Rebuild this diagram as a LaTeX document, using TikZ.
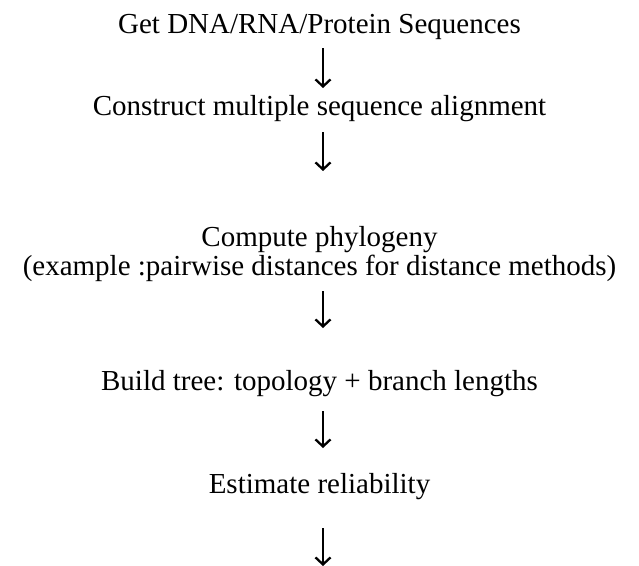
\documentclass[tikz,border=0pt]{standalone}
\usepackage{fontspec}
\setmainfont{Liberation Serif}
\usetikzlibrary{arrows.meta}
\begin{document}
\begin{tikzpicture}[x=1pt,y=1pt,
  steptext/.style={anchor=base,inner sep=0pt,font=\fontsize{29}{34}\selectfont},
  flowarrow/.style={line width=2.3pt,-{Straight Barb[length=7pt,width=15pt,line width=2.3pt]}}]
\useasboundingbox (0,0) rectangle (639,-565);
% workflow steps, placed on their baselines
\node[steptext] (get)  at (319.5,-33)  {Get DNA/RNA/Protein Sequences};
\node[steptext] (msa)  at (319.5,-115) {Construct multiple sequence alignment};
\node[steptext] (phy)  at (319.5,-246) {Compute phylogeny};
\node[steptext] (ex)   at (319.5,-275) {(example :pairwise distances for distance methods)};
\node[steptext] (tree) at (319.5,-390) {Build tree: topology + branch lengths};
\node[steptext] (rel)  at (319.5,-493) {Estimate reliability};
% arrow end points
\coordinate (a1s) at (323,-48);  \coordinate (a1e) at (323,-88);
\coordinate (a2s) at (323,-132); \coordinate (a2e) at (323,-171);
\coordinate (a3s) at (323,-291); \coordinate (a3e) at (323,-328);
\coordinate (a4s) at (323,-411); \coordinate (a4e) at (323,-448);
\coordinate (a5s) at (323,-528); \coordinate (a5e) at (323,-566);
\begin{scope}
\clip (0,0) rectangle (639,-565);
\foreach \i in {1,...,5}{\draw[flowarrow] (a\i s) -- (a\i e);}
\end{scope}
\end{tikzpicture}
\end{document}
